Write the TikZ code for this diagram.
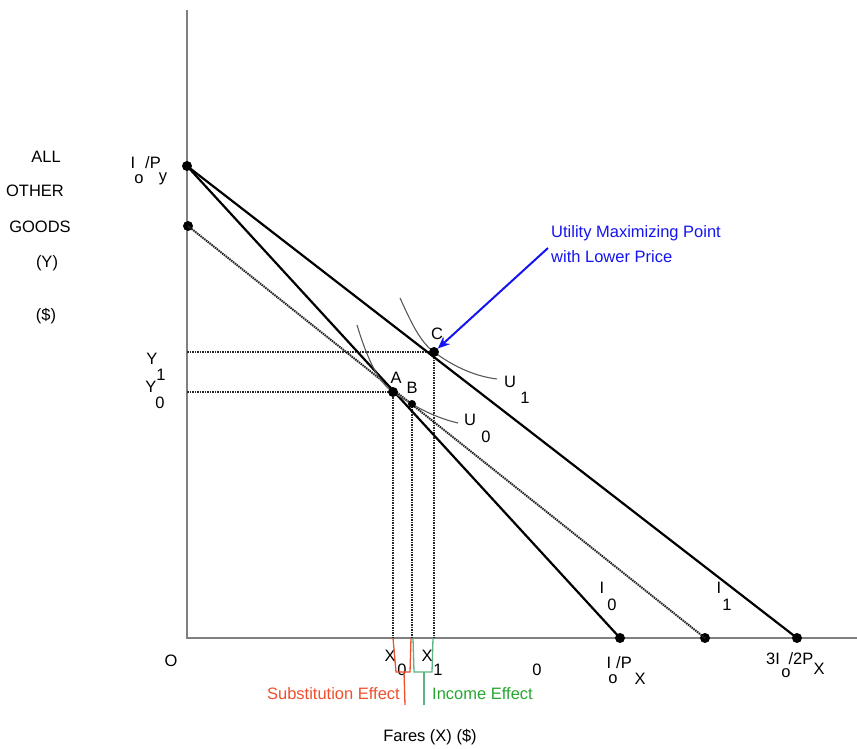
\documentclass[tikz,border=0pt]{standalone}
\usepackage{fontspec}
\setmainfont{Liberation Sans}
\usetikzlibrary{arrows.meta}
\definecolor{subred}{RGB}{240,80,45}
\definecolor{incgreen}{RGB}{40,165,50}
\definecolor{brgreen}{RGB}{90,180,130}
\definecolor{ublue}{RGB}{20,20,240}
\tikzset{
  lbl/.style={font=\fontsize{16.5}{18}\selectfont, inner sep=0pt},
  dotpt/.style={circle, fill=black, inner sep=0pt, minimum size=10pt},
  axisline/.style={draw=gray, line width=2pt},
  budget/.style={draw=black, line width=2.2pt},
  comp/.style={draw=black!85, line width=2pt, dash pattern=on 1.5pt off 0.8pt},
  guide/.style={draw=black!85, line width=2.2pt, dash pattern=on 1.5pt off 1pt},
  ucurve/.style={draw=black!65, line width=1.1pt},
}
\begin{document}
\begin{tikzpicture}[x=1pt,y=-1pt]
\useasboundingbox (0,0) rectangle (857,749);
% axes
\coordinate (ytop) at (187,10);
\coordinate (orig) at (187,638);
\coordinate (xend) at (857,638);
\draw[axisline] (ytop) -- (orig) -- (xend);
% key points
\node[dotpt] (Py) at (187,166) {};
\node[dotpt] (Pc) at (188,226) {};
\node[dotpt] (Px) at (620,638) {};
\node[dotpt] (Pm) at (705,638) {};
\node[dotpt] (P3) at (797,638) {};
\coordinate (A) at (393,392);
\coordinate (B) at (412,404);
\coordinate (C) at (434,352);
\coordinate (Y1) at (187,352);
\coordinate (Y0) at (187,392);
\coordinate (XA) at (393,638);
\coordinate (XB) at (412,638);
\coordinate (XC) at (434,638);
% guides
\draw[guide] (Y1) -- (C);
\draw[guide] (Y0) -- (A);
\draw[guide] (A) -- (XA);
\draw[guide] (B) -- (XB);
\draw[guide] (C) -- (XC);
% budget lines
\draw[comp] (Pc.center) -- (Pm.center);
\draw[budget] (Py.center) -- (Px.center);
\draw[budget] (Py.center) -- (P3.center);
% indifference curves
\draw[ucurve] (400,298) .. controls (411,322) and (420,342) .. (C)
  .. controls (450,364) and (472,376) .. (497,379);
\draw[ucurve] (357,325) .. controls (367,358) and (378,382) .. (A)
  .. controls (405,400) and (428,416) .. (458,423);
% points
\node[dotpt] (nA) at (A) {};
\node[dotpt, minimum size=8pt] (nB) at (B) {};
\node[dotpt] (nC) at (C) {};
% blue arrow and note
\coordinate (arrS) at (548,248);
\draw[ublue, line width=2pt, -{Stealth[length=12pt,width=10pt]}] (arrS) -- (nC);
\node[lbl, text=ublue, anchor=west] (note1) at (551,233) {Utility Maximizing Point};
\node[lbl, text=ublue, anchor=west] (note2) at (551,257) {with Lower Price};
% point labels
\node[lbl] (lC) at (437,334) {C};
\node[lbl] (lA) at (396,378) {A};
\node[lbl] (lB) at (412,388) {B};
\node[lbl] (u1) at (510,382) {U};
\node[lbl] (u1s) at (525,398) {1};
\node[lbl] (u0) at (470,420) {U};
\node[lbl] (u0s) at (486,437) {0};
% left labels
\node[lbl] (t1) at (46,157) {ALL};
\node[lbl] (t2) at (35,191) {OTHER};
\node[lbl] (t3) at (40,227) {GOODS};
\node[lbl] (t4) at (47,263) {(Y)};
\node[lbl] (t5) at (46,316) {(\$)};
\node[lbl] (iy1) at (133,163) {I};
\node[lbl] (iy2) at (139,179) {o};
\node[lbl] (iy3) at (153,163) {/P};
\node[lbl] (iy4) at (163,179) {y};
\node[lbl] (y1a) at (152,359) {Y};
\node[lbl] (y1b) at (161,375) {1};
\node[lbl] (y0a) at (151,387) {Y};
\node[lbl] (y0b) at (160,403) {0};
% budget labels
\node[lbl] (i0a) at (602,588) {I};
\node[lbl] (i0b) at (612,605) {0};
\node[lbl] (i1a) at (719,588) {I};
\node[lbl] (i1b) at (727,605) {1};
% x axis labels
\node[lbl] (lo) at (171,661) {O};
\node[lbl] (x0a) at (390,656) {X};
\node[lbl] (x0b) at (402,670) {0};
\node[lbl] (x1a) at (427,656) {X};
\node[lbl] (x1b) at (438,670) {1};
\node[lbl] (zero) at (537,670) {0};
\node[lbl] (px1) at (609,663) {I};
\node[lbl] (px2) at (613,679) {o};
\node[lbl] (px3) at (624,663) {/P};
\node[lbl] (px4) at (640,679) {X};
\node[lbl] (p31) at (773,659) {3I};
\node[lbl] (p32) at (786,673) {o};
\node[lbl] (p33) at (801,659) {/2P};
\node[lbl] (p34) at (819,669) {X};
% brackets
\draw[subred, line width=1.3pt] (XA) -- (396,672) -- (410,672) -- (411,638);
\coordinate (sst) at (404,672);
\coordinate (ssb) at (405,705);
\draw[subred, line width=1.3pt] (sst) -- (ssb);
\draw[brgreen, line width=1.3pt] (413,638) -- (414,672) -- (432,672) -- (433,638);
\coordinate (ist) at (424,672);
\coordinate (isb) at (424,705);
\draw[brgreen, line width=1.3pt] (ist) -- (isb);
\node[lbl, text=subred, anchor=east] (sub) at (400,694) {Substitution Effect};
\node[lbl, text=incgreen, anchor=west] (inc) at (432,694) {Income Effect};
\node[lbl] (fares) at (430,737) {Fares (X) (\$)};
\end{tikzpicture}
\end{document}
